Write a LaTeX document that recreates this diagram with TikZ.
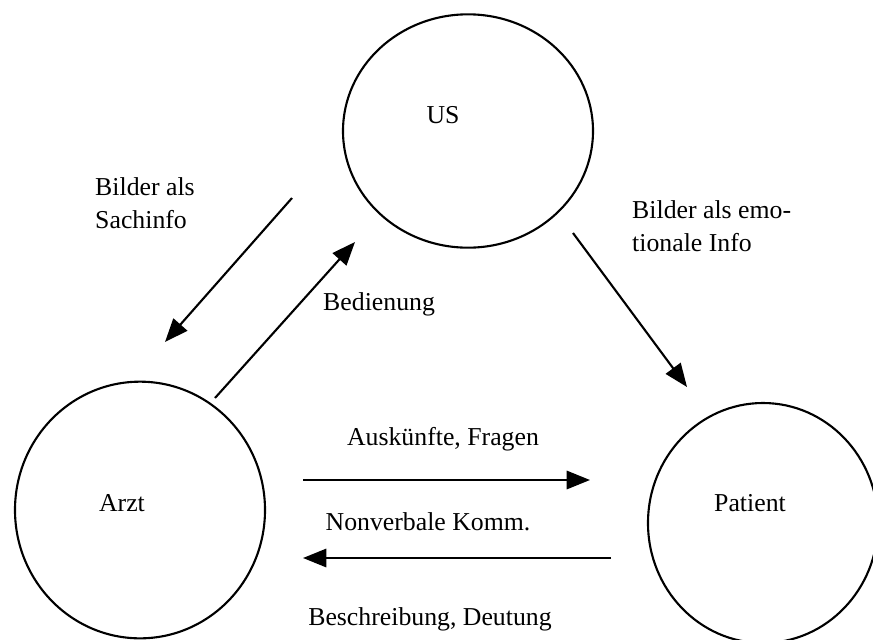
\documentclass[tikz,border=0pt]{standalone}
\usepackage{fontspec}
\setmainfont{Liberation Serif}
\usetikzlibrary{arrows.meta,shapes.geometric}

\begin{document}
\begin{tikzpicture}[x=0.03cm,y=-0.03cm,
    party/.style={draw,ellipse,line width=1.8pt,inner sep=0pt},
    flow/.style={line width=1.8pt,-{Triangle[length=0.7cm,width=0.55cm]}},
    lbl/.style={font=\fontsize{22}{28}\selectfont,align=left,inner sep=0pt}]
\useasboundingbox (0,0) rectangle (873,639);
\clip (0,0) rectangle (873,639);
% the three parties
\node[party,minimum width=7.5cm,minimum height=7cm] (us) at (468,131) {};
\node[party,minimum width=7.5cm,minimum height=7.7cm] (arzt) at (140,510) {};
\node[party,minimum width=6.9cm,minimum height=7.2cm] (patient) at (763,523) {};
\node[lbl] (usT) at (443,115) {US};
\node[lbl] (arztT) at (122,503) {Arzt};
\node[lbl] (patientT) at (750,503) {Patient};
% arrow ends
\coordinate (sachA) at (292,198);
\coordinate (sachB) at (165,342);
\coordinate (bedA) at (215,398);
\coordinate (bedB) at (355,242);
\coordinate (emoA) at (573,233);
\coordinate (emoB) at (687,387);
\coordinate (ausA) at (303,480);
\coordinate (ausB) at (590,480);
\coordinate (nonA) at (611,558);
\coordinate (nonB) at (303,558);
\draw[flow] (sachA) -- (sachB);
\draw[flow] (bedA) -- (bedB);
\draw[flow] (emoA) -- (emoB);
\draw[flow] (ausA) -- (ausB);
\draw[flow] (nonA) -- (nonB);
% labels
\node[lbl,anchor=west] (sachL) at (95,203) {Bilder als\\Sachinfo};
\node[lbl,anchor=west] (bedL) at (323,304) {Bedienung};
\node[lbl,anchor=west] (emoL) at (632,226) {Bilder als emo-\\tionale Info};
\node[lbl] (ausL) at (443,439) {Auskünfte, Fragen};
\node[lbl] (nonL) at (428,522) {Nonverbale Komm.};
\node[lbl] (beschL) at (430,619) {Beschreibung, Deutung};
\end{tikzpicture}
\end{document}
